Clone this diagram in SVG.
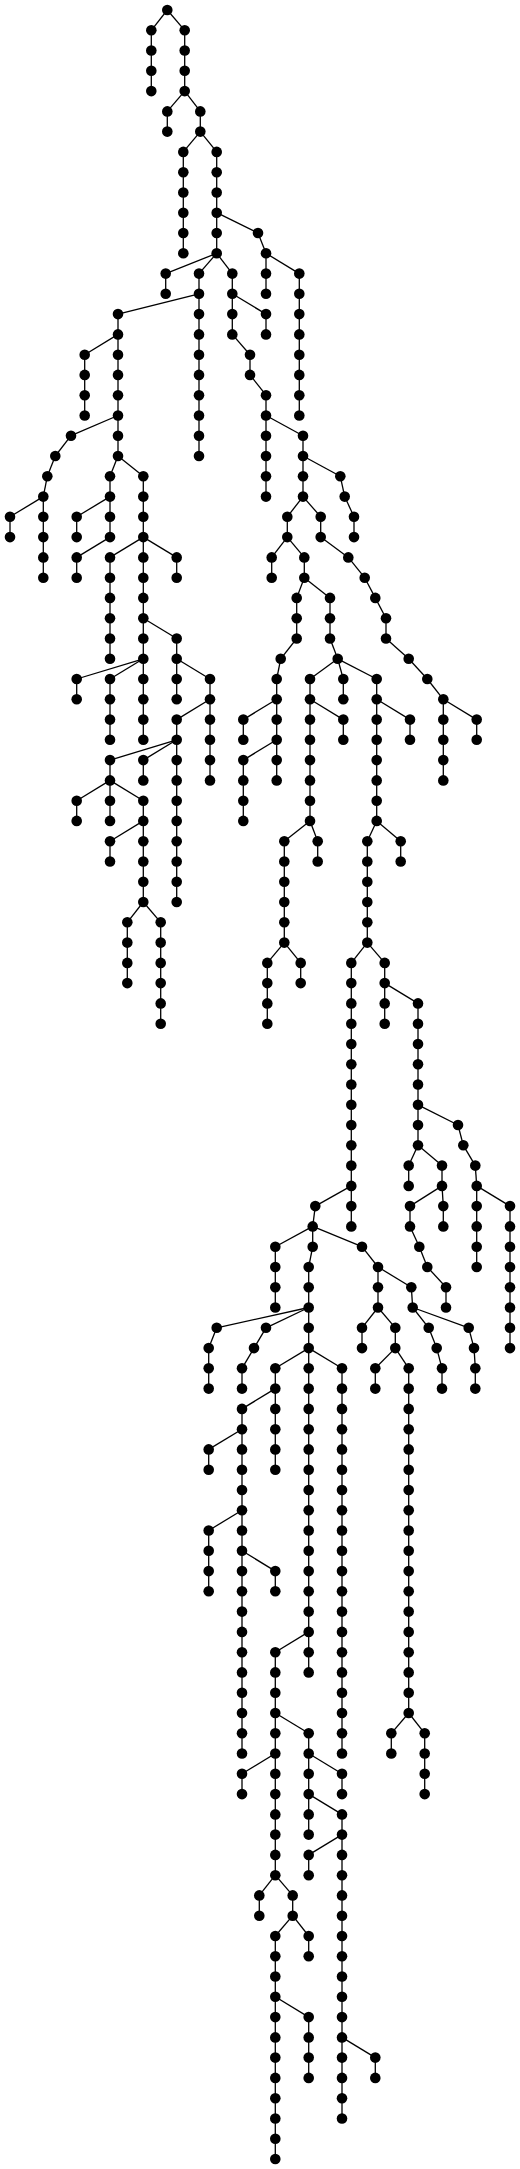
<svg xmlns="http://www.w3.org/2000/svg" width="520" height="2169" viewBox="0 0 520 2169">
<style>
#edges path{stroke:#000;stroke-width:1.3;fill:none}
.nd circle{fill:#000}
</style>
<rect width="520" height="2169" fill="#fff"/>
<g id="edges">
<path d="M167.3 10L151.3 30.3"/><path d="M167.3 10L184.7 30.3"/>
<path d="M151.3 30.3V50.5"/><path d="M184.7 30.3V50.5"/>
<path d="M151.3 50.5V70.8"/><path d="M184.7 50.5V70.8"/>
<path d="M151.3 70.8V91.1"/><path d="M184.7 70.8V91.1"/>
<path d="M184.7 91.1L167.3 111.4"/><path d="M184.7 91.1L200.3 111.4"/>
<path d="M167.3 111.4V131.6"/><path d="M200.3 111.4V131.6"/>
<path d="M200.3 131.6L183.3 151.9"/><path d="M200.3 131.6L216.7 151.9"/>
<path d="M183.3 151.9V172.2"/><path d="M216.7 151.9V172.2"/>
<path d="M183.3 172.2V192.5"/><path d="M216.7 172.2V192.5"/>
<path d="M183.3 192.5V212.7"/><path d="M216.7 192.5V212.7"/>
<path d="M183.3 212.7V233"/><path d="M216.7 212.7V233"/><path d="M216.7 212.7L258 233"/>
<path d="M183.3 233V253.3"/><path d="M216.7 233V253.3"/><path d="M258 233L266 253.3"/>
<path d="M216.7 253.3L165.7 273.6"/><path d="M216.7 253.3L199 273.6"/><path d="M216.7 253.3L232.3 273.6"/><path d="M266 253.3V273.6"/><path d="M266 253.3L299.3 273.6"/>
<path d="M165.7 273.6V293.8"/><path d="M199 273.6V293.8"/><path d="M232.3 273.6V293.8"/><path d="M266 273.6V293.8"/><path d="M299.3 273.6V293.8"/>
<path d="M199 293.8L118 314.1"/><path d="M199 293.8V314.1"/><path d="M232.3 293.8V314.1"/><path d="M232.3 293.8L266 314.1"/><path d="M299.3 293.8V314.1"/>
<path d="M118 314.1V334.4"/><path d="M199 314.1V334.4"/><path d="M232.3 314.1V334.4"/><path d="M266 314.1V334.4"/><path d="M299.3 314.1V334.4"/>
<path d="M118 334.4L84.7 354.7"/><path d="M118 334.4V354.7"/><path d="M199 334.4V354.7"/><path d="M232.3 334.4L250 354.7"/><path d="M299.3 334.4V354.7"/>
<path d="M84.7 354.7V374.9"/><path d="M118 354.7V374.9"/><path d="M199 354.7V374.9"/><path d="M250 354.7V374.9"/><path d="M299.3 354.7V374.9"/>
<path d="M84.7 374.9V395.2"/><path d="M118 374.9V395.2"/><path d="M199 374.9V395.2"/><path d="M250 374.9L266 395.2"/><path d="M299.3 374.9V395.2"/>
<path d="M84.7 395.2V415.5"/><path d="M118 395.2V415.5"/><path d="M199 395.2V415.5"/><path d="M266 395.2V415.5"/><path d="M299.3 395.2V415.5"/>
<path d="M118 415.5L71 435.7"/><path d="M118 415.5V435.7"/><path d="M199 415.5V435.7"/><path d="M266 415.5V435.7"/><path d="M266 415.5L303 435.7"/>
<path d="M71 435.7L55.3 456"/><path d="M118 435.7V456"/><path d="M199 435.7V456"/><path d="M266 435.7V456"/><path d="M303 435.7V456"/>
<path d="M55.3 456L47.3 476.3"/><path d="M118 456L110 476.3"/><path d="M118 456L143.3 476.3"/><path d="M266 456V476.3"/><path d="M303 456V476.3"/><path d="M303 456L340.3 476.3"/>
<path d="M47.3 476.3L43.3 496.6"/><path d="M110 476.3V496.6"/><path d="M143.3 476.3V496.6"/><path d="M266 476.3V496.6"/><path d="M303 476.3V496.6"/><path d="M340.3 476.3L344.7 496.6"/>
<path d="M43.3 496.6L10 516.8"/><path d="M43.3 496.6V516.8"/><path d="M110 496.6L76.7 516.8"/><path d="M110 496.6V516.8"/><path d="M143.3 496.6V516.8"/><path d="M303 496.6L287.3 516.8"/><path d="M303 496.6L320.7 516.8"/><path d="M344.7 496.6L354 516.8"/>
<path d="M10 516.8V537.1"/><path d="M43.3 516.8V537.1"/><path d="M76.7 516.8V537.1"/><path d="M110 516.8V537.1"/><path d="M143.3 516.8V537.1"/><path d="M287.3 516.8V537.1"/><path d="M320.7 516.8V537.1"/><path d="M354 516.8V537.1"/>
<path d="M43.3 537.1V557.4"/><path d="M110 537.1L76.7 557.4"/><path d="M143.3 537.1L110 557.4"/><path d="M143.3 537.1V557.4"/><path d="M143.3 537.1L176.7 557.4"/><path d="M287.3 537.1L271.7 557.4"/><path d="M287.3 537.1L304.3 557.4"/><path d="M320.7 537.1L348.3 557.4"/>
<path d="M43.3 557.4V577.7"/><path d="M76.7 557.4V577.7"/><path d="M110 557.4V577.7"/><path d="M143.3 557.4V577.7"/><path d="M176.7 557.4V577.7"/><path d="M271.7 557.4V577.7"/><path d="M304.3 557.4V577.7"/><path d="M348.3 557.4L364.7 577.7"/>
<path d="M110 577.7V597.9"/><path d="M143.3 577.7V597.9"/><path d="M304.3 577.7L296.7 597.9"/><path d="M304.3 577.7L330 597.9"/><path d="M364.7 577.7L375.3 597.9"/>
<path d="M110 597.9V618.2"/><path d="M143.3 597.9V618.2"/><path d="M296.7 597.9V618.2"/><path d="M330 597.9V618.2"/><path d="M375.3 597.9L386 618.2"/>
<path d="M110 618.2V638.5"/><path d="M143.3 618.2V638.5"/><path d="M143.3 618.2L176.7 638.5"/><path d="M296.7 618.2V638.5"/><path d="M330 618.2V638.5"/><path d="M386 618.2V638.5"/>
<path d="M110 638.5V658.8"/><path d="M143.3 638.5V658.8"/><path d="M176.7 638.5V658.8"/><path d="M296.7 638.5L280.7 658.8"/><path d="M330 638.5L337.7 658.8"/><path d="M386 638.5L408.7 658.8"/>
<path d="M143.3 658.8L76.7 679"/><path d="M143.3 658.8L110 679"/><path d="M143.3 658.8V679"/><path d="M176.7 658.8V679"/><path d="M176.7 658.8L210 679"/><path d="M280.7 658.8L276.7 679"/><path d="M337.7 658.8L310 679"/><path d="M337.7 658.8L343.3 679"/><path d="M337.7 658.8L376.7 679"/><path d="M408.7 658.8L427.3 679"/>
<path d="M76.7 679V699.3"/><path d="M110 679V699.3"/><path d="M143.3 679V699.3"/><path d="M176.7 679V699.3"/><path d="M210 679V699.3"/><path d="M276.7 679V699.3"/><path d="M310 679V699.3"/><path d="M343.3 679V699.3"/><path d="M376.7 679V699.3"/><path d="M427.3 679L443.3 699.3"/>
<path d="M110 699.3V719.6"/><path d="M143.3 699.3V719.6"/><path d="M210 699.3L176.7 719.6"/><path d="M210 699.3V719.6"/><path d="M276.7 699.3L243.3 719.6"/><path d="M276.7 699.3V719.6"/><path d="M310 699.3V719.6"/><path d="M310 699.3L343.3 719.6"/><path d="M376.7 699.3V719.6"/><path d="M376.7 699.3L410 719.6"/><path d="M443.3 699.3V719.6"/><path d="M443.3 699.3L476.7 719.6"/>
<path d="M110 719.6V739.8"/><path d="M143.3 719.6V739.8"/><path d="M176.7 719.6V739.8"/><path d="M210 719.6V739.8"/><path d="M243.3 719.6V739.8"/><path d="M276.7 719.6V739.8"/><path d="M310 719.6V739.8"/><path d="M343.3 719.6V739.8"/><path d="M376.7 719.6V739.8"/><path d="M410 719.6V739.8"/><path d="M443.3 719.6V739.8"/><path d="M476.7 719.6V739.8"/>
<path d="M176.7 739.8L110 760.1"/><path d="M176.7 739.8L143.3 760.1"/><path d="M176.7 739.8V760.1"/><path d="M210 739.8V760.1"/><path d="M276.7 739.8L243.3 760.1"/><path d="M276.7 739.8V760.1"/><path d="M310 739.8V760.1"/><path d="M376.7 739.8V760.1"/><path d="M443.3 739.8V760.1"/>
<path d="M110 760.1V780.4"/><path d="M143.3 760.1V780.4"/><path d="M176.7 760.1V780.4"/><path d="M210 760.1V780.4"/><path d="M243.3 760.1V780.4"/><path d="M276.7 760.1V780.4"/><path d="M310 760.1V780.4"/><path d="M376.7 760.1V780.4"/><path d="M443.3 760.1V780.4"/>
<path d="M110 780.4L76.7 800.7"/><path d="M110 780.4V800.7"/><path d="M110 780.4L143.3 800.7"/><path d="M176.7 780.4V800.7"/><path d="M243.3 780.4V800.7"/><path d="M310 780.4V800.7"/><path d="M376.7 780.4V800.7"/>
<path d="M76.7 800.7V820.9"/><path d="M110 800.7V820.9"/><path d="M143.3 800.7V820.9"/><path d="M176.7 800.7V820.9"/><path d="M243.3 800.7V820.9"/><path d="M310 800.7V820.9"/><path d="M376.7 800.7V820.9"/>
<path d="M143.3 820.9L110 841.2"/><path d="M143.3 820.9V841.2"/><path d="M176.7 820.9V841.2"/><path d="M310 820.9L284.3 841.2"/><path d="M310 820.9L317.7 841.2"/><path d="M376.7 820.9L367.3 841.2"/><path d="M376.7 820.9L400.7 841.2"/>
<path d="M110 841.2V861.5"/><path d="M143.3 841.2V861.5"/><path d="M176.7 841.2V861.5"/><path d="M284.3 841.2V861.5"/><path d="M317.7 841.2V861.5"/><path d="M367.3 841.2V861.5"/><path d="M400.7 841.2V861.5"/>
<path d="M143.3 861.5V881.8"/><path d="M176.7 861.5V881.8"/><path d="M284.3 861.5V881.8"/><path d="M367.3 861.5V881.8"/>
<path d="M143.3 881.8V902"/><path d="M176.7 881.8V902"/><path d="M284.3 881.8V902"/><path d="M367.3 881.8V902"/>
<path d="M143.3 902L127.3 922.3"/><path d="M143.3 902L160.7 922.3"/><path d="M284.3 902V922.3"/><path d="M367.3 902V922.3"/>
<path d="M127.3 922.3V942.6"/><path d="M160.7 922.3V942.6"/><path d="M284.3 922.3V942.6"/><path d="M367.3 922.3V942.6"/>
<path d="M127.3 942.6V962.9"/><path d="M160.7 942.6V962.9"/><path d="M284.3 942.6L267.3 962.9"/><path d="M284.3 942.6L300.7 962.9"/><path d="M367.3 942.6L351.3 962.9"/><path d="M367.3 942.6L384.7 962.9"/>
<path d="M127.3 962.9V983.1"/><path d="M160.7 962.9V983.1"/><path d="M267.3 962.9V983.1"/><path d="M300.7 962.9V983.1"/><path d="M351.3 962.9V983.1"/><path d="M384.7 962.9V983.1"/>
<path d="M160.7 983.1V1003.4"/><path d="M267.3 983.1V1003.4"/><path d="M351.3 983.1V1003.4"/><path d="M384.7 983.1V1003.4"/><path d="M384.7 983.1L418 1003.4"/>
<path d="M160.7 1003.4V1023.7"/><path d="M267.3 1003.4V1023.7"/><path d="M351.3 1003.4V1023.7"/><path d="M384.7 1003.4V1023.7"/><path d="M418 1003.4V1023.7"/>
<path d="M351.3 1023.7V1044"/><path d="M418 1023.7V1044"/>
<path d="M351.3 1044V1064.2"/><path d="M418 1044V1064.2"/>
<path d="M351.3 1064.2V1084.5"/><path d="M418 1064.2V1084.5"/>
<path d="M351.3 1084.5V1104.8"/><path d="M418 1084.5V1104.8"/>
<path d="M351.3 1104.8V1125"/><path d="M418 1104.8V1125"/><path d="M418 1104.8L458 1125"/>
<path d="M351.3 1125V1145.3"/><path d="M418 1125V1145.3"/><path d="M458 1125L463.3 1145.3"/>
<path d="M351.3 1145.3V1165.6"/><path d="M418 1145.3L408.7 1165.6"/><path d="M418 1145.3L442 1165.6"/><path d="M463.3 1145.3L475.3 1165.6"/>
<path d="M351.3 1165.6V1185.9"/><path d="M408.7 1165.6V1185.9"/><path d="M442 1165.6V1185.9"/><path d="M475.3 1165.6L476.7 1185.9"/>
<path d="M351.3 1185.9L315.3 1206.1"/><path d="M351.3 1185.9V1206.1"/><path d="M442 1185.9L410 1206.1"/><path d="M442 1185.9L443.3 1206.1"/><path d="M476.7 1185.9V1206.1"/><path d="M476.7 1185.9L510 1206.1"/>
<path d="M315.3 1206.1L312.7 1226.4"/><path d="M351.3 1206.1V1226.4"/><path d="M410 1206.1V1226.4"/><path d="M443.3 1206.1V1226.4"/><path d="M476.7 1206.1V1226.4"/><path d="M510 1206.1V1226.4"/>
<path d="M312.7 1226.4L275.3 1246.7"/><path d="M312.7 1226.4V1246.7"/><path d="M312.7 1226.4L362 1246.7"/><path d="M410 1226.4L419.3 1246.7"/><path d="M476.7 1226.4V1246.7"/><path d="M510 1226.4V1246.7"/>
<path d="M275.3 1246.7V1267"/><path d="M312.7 1246.7L308.7 1267"/><path d="M362 1246.7L378 1267"/><path d="M419.3 1246.7L427.3 1267"/><path d="M476.7 1246.7V1267"/><path d="M510 1246.7V1267"/>
<path d="M275.3 1267V1287.2"/><path d="M308.7 1267V1287.2"/><path d="M378 1267V1287.2"/><path d="M378 1267L411.3 1287.2"/><path d="M427.3 1267L446 1287.2"/><path d="M510 1267V1287.2"/>
<path d="M275.3 1287.2V1307.5"/><path d="M308.7 1287.2V1307.5"/><path d="M378 1287.2V1307.5"/><path d="M411.3 1287.2L412.7 1307.5"/><path d="M446 1287.2V1307.5"/><path d="M510 1287.2V1307.5"/>
<path d="M308.7 1307.5L216.7 1327.8"/><path d="M308.7 1307.5L266 1327.8"/><path d="M308.7 1307.5V1327.8"/><path d="M378 1307.5L362 1327.8"/><path d="M378 1307.5L395.3 1327.8"/><path d="M412.7 1307.5L428.7 1327.8"/><path d="M412.7 1307.5L468.7 1327.8"/><path d="M510 1307.5V1327.8"/>
<path d="M216.7 1327.8L208.7 1348.1"/><path d="M266 1327.8L254 1348.1"/><path d="M308.7 1327.8V1348.1"/><path d="M362 1327.8V1348.1"/><path d="M395.3 1327.8V1348.1"/><path d="M428.7 1327.8L436.7 1348.1"/><path d="M468.7 1327.8L474 1348.1"/><path d="M510 1327.8V1348.1"/>
<path d="M208.7 1348.1V1368.3"/><path d="M254 1348.1L242 1368.3"/><path d="M308.7 1348.1L275.3 1368.3"/><path d="M308.7 1348.1V1368.3"/><path d="M308.7 1348.1L342 1368.3"/><path d="M395.3 1348.1L375.3 1368.3"/><path d="M395.3 1348.1L408.7 1368.3"/><path d="M436.7 1348.1L442 1368.3"/><path d="M474 1348.1L475.3 1368.3"/>
<path d="M208.7 1368.3V1388.6"/><path d="M242 1368.3V1388.6"/><path d="M275.3 1368.3V1388.6"/><path d="M308.7 1368.3V1388.6"/><path d="M342 1368.3V1388.6"/><path d="M375.3 1368.3V1388.6"/><path d="M408.7 1368.3V1388.6"/><path d="M442 1368.3V1388.6"/><path d="M475.3 1368.3V1388.6"/>
<path d="M275.3 1388.6L242 1408.9"/><path d="M275.3 1388.6V1408.9"/><path d="M308.7 1388.6V1408.9"/><path d="M342 1388.6V1408.9"/><path d="M408.7 1388.6V1408.9"/>
<path d="M242 1408.9V1429.2"/><path d="M275.3 1408.9V1429.2"/><path d="M308.7 1408.9V1429.2"/><path d="M342 1408.9V1429.2"/><path d="M408.7 1408.9V1429.2"/>
<path d="M242 1429.2L208.7 1449.4"/><path d="M242 1429.2V1449.4"/><path d="M275.3 1429.2V1449.4"/><path d="M308.7 1429.2V1449.4"/><path d="M342 1429.2V1449.4"/><path d="M408.7 1429.2V1449.4"/>
<path d="M208.7 1449.4V1469.7"/><path d="M242 1449.4V1469.7"/><path d="M275.3 1449.4V1469.7"/><path d="M308.7 1449.4V1469.7"/><path d="M342 1449.4V1469.7"/><path d="M408.7 1449.4V1469.7"/>
<path d="M242 1469.7V1490"/><path d="M308.7 1469.7V1490"/><path d="M342 1469.7V1490"/><path d="M408.7 1469.7V1490"/>
<path d="M242 1490V1510.2"/><path d="M308.7 1490V1510.2"/><path d="M342 1490V1510.2"/><path d="M408.7 1490V1510.2"/>
<path d="M242 1510.2L208.7 1530.5"/><path d="M242 1510.2V1530.5"/><path d="M308.7 1510.2V1530.5"/><path d="M342 1510.2V1530.5"/><path d="M408.7 1510.2V1530.5"/>
<path d="M208.7 1530.5V1550.8"/><path d="M242 1530.5V1550.8"/><path d="M308.7 1530.5V1550.8"/><path d="M342 1530.5V1550.8"/><path d="M408.7 1530.5V1550.8"/>
<path d="M208.7 1550.8V1571.1"/><path d="M242 1550.8V1571.1"/><path d="M242 1550.8L275.3 1571.1"/><path d="M308.7 1550.8V1571.1"/><path d="M342 1550.8V1571.1"/><path d="M408.7 1550.8V1571.1"/>
<path d="M208.7 1571.1V1591.3"/><path d="M242 1571.1V1591.3"/><path d="M275.3 1571.1V1591.3"/><path d="M308.7 1571.1V1591.3"/><path d="M342 1571.1V1591.3"/><path d="M408.7 1571.1V1591.3"/>
<path d="M242 1591.3V1611.6"/><path d="M308.7 1591.3V1611.6"/><path d="M342 1591.3V1611.6"/><path d="M408.7 1591.3V1611.6"/>
<path d="M242 1611.6V1631.9"/><path d="M308.7 1611.6V1631.9"/><path d="M342 1611.6V1631.9"/><path d="M408.7 1611.6V1631.9"/>
<path d="M242 1631.9V1652.2"/><path d="M308.7 1631.9L275.3 1652.2"/><path d="M308.7 1631.9V1652.2"/><path d="M342 1631.9V1652.2"/><path d="M408.7 1631.9V1652.2"/>
<path d="M242 1652.2V1672.4"/><path d="M275.3 1652.2V1672.4"/><path d="M308.7 1652.2V1672.4"/><path d="M342 1652.2V1672.4"/><path d="M408.7 1652.2V1672.4"/>
<path d="M242 1672.4V1692.7"/><path d="M275.3 1672.4V1692.7"/><path d="M342 1672.4V1692.7"/><path d="M408.7 1672.4V1692.7"/>
<path d="M242 1692.7V1713"/><path d="M275.3 1692.7V1713"/><path d="M342 1692.7V1713"/><path d="M408.7 1692.7V1713"/>
<path d="M242 1713V1733.3"/><path d="M275.3 1713V1733.3"/><path d="M275.3 1713L308.7 1733.3"/><path d="M342 1713V1733.3"/><path d="M408.7 1713L391.3 1733.3"/><path d="M408.7 1713L424.7 1733.3"/>
<path d="M242 1733.3V1753.5"/><path d="M275.3 1733.3V1753.5"/><path d="M308.7 1733.3V1753.5"/><path d="M342 1733.3V1753.5"/><path d="M391.3 1733.3V1753.5"/><path d="M424.7 1733.3V1753.5"/>
<path d="M275.3 1753.5L242 1773.8"/><path d="M275.3 1753.5V1773.8"/><path d="M308.7 1753.5V1773.8"/><path d="M308.7 1753.5L342 1773.8"/><path d="M424.7 1753.5V1773.8"/>
<path d="M242 1773.8V1794.1"/><path d="M275.3 1773.8V1794.1"/><path d="M308.7 1773.8V1794.1"/><path d="M342 1773.8V1794.1"/><path d="M424.7 1773.8V1794.1"/>
<path d="M275.3 1794.1V1814.4"/><path d="M308.7 1794.1V1814.4"/><path d="M308.7 1794.1L342 1814.4"/>
<path d="M275.3 1814.4V1834.6"/><path d="M308.7 1814.4V1834.6"/><path d="M342 1814.4V1834.6"/>
<path d="M275.3 1834.6V1854.9"/><path d="M342 1834.6L308.7 1854.9"/><path d="M342 1834.6V1854.9"/>
<path d="M275.3 1854.9V1875.2"/><path d="M308.7 1854.9V1875.2"/><path d="M342 1854.9V1875.2"/>
<path d="M275.3 1875.2L259.3 1895.4"/><path d="M275.3 1875.2L292.7 1895.4"/><path d="M342 1875.2V1895.4"/>
<path d="M259.3 1895.4V1915.7"/><path d="M292.7 1895.4V1915.7"/><path d="M342 1895.4V1915.7"/>
<path d="M292.7 1915.7L275.3 1936"/><path d="M292.7 1915.7L308.7 1936"/><path d="M342 1915.7V1936"/>
<path d="M275.3 1936V1956.3"/><path d="M308.7 1936V1956.3"/><path d="M342 1936V1956.3"/>
<path d="M275.3 1956.3V1976.5"/><path d="M342 1956.3V1976.5"/>
<path d="M275.3 1976.5V1996.8"/><path d="M342 1976.5V1996.8"/>
<path d="M275.3 1996.8V2017.1"/><path d="M275.3 1996.8L308.7 2017.1"/><path d="M342 1996.8V2017.1"/>
<path d="M275.3 2017.1V2037.4"/><path d="M308.7 2017.1V2037.4"/><path d="M342 2017.1V2037.4"/>
<path d="M275.3 2037.4V2057.6"/><path d="M308.7 2037.4V2057.6"/><path d="M342 2037.4V2057.6"/><path d="M342 2037.4L375.3 2057.6"/>
<path d="M275.3 2057.6V2077.9"/><path d="M308.7 2057.6V2077.9"/><path d="M342 2057.6V2077.9"/><path d="M375.3 2057.6V2077.9"/>
<path d="M275.3 2077.9V2098.2"/><path d="M342 2077.9V2098.2"/>
<path d="M275.3 2098.2V2118.5"/><path d="M342 2098.2V2118.5"/>
<path d="M275.3 2118.5V2138.7"/>
<path d="M275.3 2138.7V2159"/>
</g>
<g id="nodes">
<g id="n0-0" class="nd"><circle cx="167.3" cy="10" r="5.3"/></g>
<g id="n1-0" class="nd"><circle cx="151.3" cy="30.3" r="5.3"/></g><g id="n1-1" class="nd"><circle cx="184.7" cy="30.3" r="5.3"/></g>
<g id="n2-0" class="nd"><circle cx="151.3" cy="50.5" r="5.3"/></g><g id="n2-1" class="nd"><circle cx="184.7" cy="50.5" r="5.3"/></g>
<g id="n3-0" class="nd"><circle cx="151.3" cy="70.8" r="5.3"/></g><g id="n3-1" class="nd"><circle cx="184.7" cy="70.8" r="5.3"/></g>
<g id="n4-0" class="nd"><circle cx="151.3" cy="91.1" r="5.3"/></g><g id="n4-1" class="nd"><circle cx="184.7" cy="91.1" r="5.3"/></g>
<g id="n5-0" class="nd"><circle cx="167.3" cy="111.4" r="5.3"/></g><g id="n5-1" class="nd"><circle cx="200.3" cy="111.4" r="5.3"/></g>
<g id="n6-0" class="nd"><circle cx="167.3" cy="131.6" r="5.3"/></g><g id="n6-1" class="nd"><circle cx="200.3" cy="131.6" r="5.3"/></g>
<g id="n7-0" class="nd"><circle cx="183.3" cy="151.9" r="5.3"/></g><g id="n7-1" class="nd"><circle cx="216.7" cy="151.9" r="5.3"/></g>
<g id="n8-0" class="nd"><circle cx="183.3" cy="172.2" r="5.3"/></g><g id="n8-1" class="nd"><circle cx="216.7" cy="172.2" r="5.3"/></g>
<g id="n9-0" class="nd"><circle cx="183.3" cy="192.5" r="5.3"/></g><g id="n9-1" class="nd"><circle cx="216.7" cy="192.5" r="5.3"/></g>
<g id="n10-0" class="nd"><circle cx="183.3" cy="212.7" r="5.3"/></g><g id="n10-1" class="nd"><circle cx="216.7" cy="212.7" r="5.3"/></g>
<g id="n11-0" class="nd"><circle cx="183.3" cy="233" r="5.3"/></g><g id="n11-1" class="nd"><circle cx="216.7" cy="233" r="5.3"/></g><g id="n11-2" class="nd"><circle cx="258" cy="233" r="5.3"/></g>
<g id="n12-0" class="nd"><circle cx="183.3" cy="253.3" r="5.3"/></g><g id="n12-1" class="nd"><circle cx="216.7" cy="253.3" r="5.3"/></g><g id="n12-2" class="nd"><circle cx="266" cy="253.3" r="5.3"/></g>
<g id="n13-0" class="nd"><circle cx="165.7" cy="273.6" r="5.3"/></g><g id="n13-1" class="nd"><circle cx="199" cy="273.6" r="5.3"/></g><g id="n13-2" class="nd"><circle cx="232.3" cy="273.6" r="5.3"/></g><g id="n13-3" class="nd"><circle cx="266" cy="273.6" r="5.3"/></g><g id="n13-4" class="nd"><circle cx="299.3" cy="273.6" r="5.3"/></g>
<g id="n14-0" class="nd"><circle cx="165.7" cy="293.8" r="5.3"/></g><g id="n14-1" class="nd"><circle cx="199" cy="293.8" r="5.3"/></g><g id="n14-2" class="nd"><circle cx="232.3" cy="293.8" r="5.3"/></g><g id="n14-3" class="nd"><circle cx="266" cy="293.8" r="5.3"/></g><g id="n14-4" class="nd"><circle cx="299.3" cy="293.8" r="5.3"/></g>
<g id="n15-0" class="nd"><circle cx="118" cy="314.1" r="5.3"/></g><g id="n15-1" class="nd"><circle cx="199" cy="314.1" r="5.3"/></g><g id="n15-2" class="nd"><circle cx="232.3" cy="314.1" r="5.3"/></g><g id="n15-3" class="nd"><circle cx="266" cy="314.1" r="5.3"/></g><g id="n15-4" class="nd"><circle cx="299.3" cy="314.1" r="5.3"/></g>
<g id="n16-0" class="nd"><circle cx="118" cy="334.4" r="5.3"/></g><g id="n16-1" class="nd"><circle cx="199" cy="334.4" r="5.3"/></g><g id="n16-2" class="nd"><circle cx="232.3" cy="334.4" r="5.3"/></g><g id="n16-3" class="nd"><circle cx="266" cy="334.4" r="5.3"/></g><g id="n16-4" class="nd"><circle cx="299.3" cy="334.4" r="5.3"/></g>
<g id="n17-0" class="nd"><circle cx="84.7" cy="354.7" r="5.3"/></g><g id="n17-1" class="nd"><circle cx="118" cy="354.7" r="5.3"/></g><g id="n17-2" class="nd"><circle cx="199" cy="354.7" r="5.3"/></g><g id="n17-3" class="nd"><circle cx="250" cy="354.7" r="5.3"/></g><g id="n17-4" class="nd"><circle cx="299.3" cy="354.7" r="5.3"/></g>
<g id="n18-0" class="nd"><circle cx="84.7" cy="374.9" r="5.3"/></g><g id="n18-1" class="nd"><circle cx="118" cy="374.9" r="5.3"/></g><g id="n18-2" class="nd"><circle cx="199" cy="374.9" r="5.3"/></g><g id="n18-3" class="nd"><circle cx="250" cy="374.9" r="5.3"/></g><g id="n18-4" class="nd"><circle cx="299.3" cy="374.9" r="5.3"/></g>
<g id="n19-0" class="nd"><circle cx="84.7" cy="395.2" r="5.3"/></g><g id="n19-1" class="nd"><circle cx="118" cy="395.2" r="5.3"/></g><g id="n19-2" class="nd"><circle cx="199" cy="395.2" r="5.3"/></g><g id="n19-3" class="nd"><circle cx="266" cy="395.2" r="5.3"/></g><g id="n19-4" class="nd"><circle cx="299.3" cy="395.2" r="5.3"/></g>
<g id="n20-0" class="nd"><circle cx="84.7" cy="415.5" r="5.3"/></g><g id="n20-1" class="nd"><circle cx="118" cy="415.5" r="5.3"/></g><g id="n20-2" class="nd"><circle cx="199" cy="415.5" r="5.3"/></g><g id="n20-3" class="nd"><circle cx="266" cy="415.5" r="5.3"/></g><g id="n20-4" class="nd"><circle cx="299.3" cy="415.5" r="5.3"/></g>
<g id="n21-0" class="nd"><circle cx="71" cy="435.7" r="5.3"/></g><g id="n21-1" class="nd"><circle cx="118" cy="435.7" r="5.3"/></g><g id="n21-2" class="nd"><circle cx="199" cy="435.7" r="5.3"/></g><g id="n21-3" class="nd"><circle cx="266" cy="435.7" r="5.3"/></g><g id="n21-4" class="nd"><circle cx="303" cy="435.7" r="5.3"/></g>
<g id="n22-0" class="nd"><circle cx="55.3" cy="456" r="5.3"/></g><g id="n22-1" class="nd"><circle cx="118" cy="456" r="5.3"/></g><g id="n22-2" class="nd"><circle cx="199" cy="456" r="5.3"/></g><g id="n22-3" class="nd"><circle cx="266" cy="456" r="5.3"/></g><g id="n22-4" class="nd"><circle cx="303" cy="456" r="5.3"/></g>
<g id="n23-0" class="nd"><circle cx="47.3" cy="476.3" r="5.3"/></g><g id="n23-1" class="nd"><circle cx="110" cy="476.3" r="5.3"/></g><g id="n23-2" class="nd"><circle cx="143.3" cy="476.3" r="5.3"/></g><g id="n23-3" class="nd"><circle cx="266" cy="476.3" r="5.3"/></g><g id="n23-4" class="nd"><circle cx="303" cy="476.3" r="5.3"/></g><g id="n23-5" class="nd"><circle cx="340.3" cy="476.3" r="5.3"/></g>
<g id="n24-0" class="nd"><circle cx="43.3" cy="496.6" r="5.3"/></g><g id="n24-1" class="nd"><circle cx="110" cy="496.6" r="5.3"/></g><g id="n24-2" class="nd"><circle cx="143.3" cy="496.6" r="5.3"/></g><g id="n24-3" class="nd"><circle cx="266" cy="496.6" r="5.3"/></g><g id="n24-4" class="nd"><circle cx="303" cy="496.6" r="5.3"/></g><g id="n24-5" class="nd"><circle cx="344.7" cy="496.6" r="5.3"/></g>
<g id="n25-0" class="nd"><circle cx="10" cy="516.8" r="5.3"/></g><g id="n25-1" class="nd"><circle cx="43.3" cy="516.8" r="5.3"/></g><g id="n25-2" class="nd"><circle cx="76.7" cy="516.8" r="5.3"/></g><g id="n25-3" class="nd"><circle cx="110" cy="516.8" r="5.3"/></g><g id="n25-4" class="nd"><circle cx="143.3" cy="516.8" r="5.3"/></g><g id="n25-5" class="nd"><circle cx="287.3" cy="516.8" r="5.3"/></g><g id="n25-6" class="nd"><circle cx="320.7" cy="516.8" r="5.3"/></g><g id="n25-7" class="nd"><circle cx="354" cy="516.8" r="5.3"/></g>
<g id="n26-0" class="nd"><circle cx="10" cy="537.1" r="5.3"/></g><g id="n26-1" class="nd"><circle cx="43.3" cy="537.1" r="5.3"/></g><g id="n26-2" class="nd"><circle cx="76.7" cy="537.1" r="5.3"/></g><g id="n26-3" class="nd"><circle cx="110" cy="537.1" r="5.3"/></g><g id="n26-4" class="nd"><circle cx="143.3" cy="537.1" r="5.3"/></g><g id="n26-5" class="nd"><circle cx="287.3" cy="537.1" r="5.3"/></g><g id="n26-6" class="nd"><circle cx="320.7" cy="537.1" r="5.3"/></g><g id="n26-7" class="nd"><circle cx="354" cy="537.1" r="5.3"/></g>
<g id="n27-0" class="nd"><circle cx="43.3" cy="557.4" r="5.3"/></g><g id="n27-1" class="nd"><circle cx="76.7" cy="557.4" r="5.3"/></g><g id="n27-2" class="nd"><circle cx="110" cy="557.4" r="5.3"/></g><g id="n27-3" class="nd"><circle cx="143.3" cy="557.4" r="5.3"/></g><g id="n27-4" class="nd"><circle cx="176.7" cy="557.4" r="5.3"/></g><g id="n27-5" class="nd"><circle cx="271.7" cy="557.4" r="5.3"/></g><g id="n27-6" class="nd"><circle cx="304.3" cy="557.4" r="5.3"/></g><g id="n27-7" class="nd"><circle cx="348.3" cy="557.4" r="5.3"/></g>
<g id="n28-0" class="nd"><circle cx="43.3" cy="577.7" r="5.3"/></g><g id="n28-1" class="nd"><circle cx="76.7" cy="577.7" r="5.3"/></g><g id="n28-2" class="nd"><circle cx="110" cy="577.7" r="5.3"/></g><g id="n28-3" class="nd"><circle cx="143.3" cy="577.7" r="5.3"/></g><g id="n28-4" class="nd"><circle cx="176.7" cy="577.7" r="5.3"/></g><g id="n28-5" class="nd"><circle cx="271.7" cy="577.7" r="5.3"/></g><g id="n28-6" class="nd"><circle cx="304.3" cy="577.7" r="5.3"/></g><g id="n28-7" class="nd"><circle cx="364.7" cy="577.7" r="5.3"/></g>
<g id="n29-0" class="nd"><circle cx="110" cy="597.9" r="5.3"/></g><g id="n29-1" class="nd"><circle cx="143.3" cy="597.9" r="5.3"/></g><g id="n29-2" class="nd"><circle cx="296.7" cy="597.9" r="5.3"/></g><g id="n29-3" class="nd"><circle cx="330" cy="597.9" r="5.3"/></g><g id="n29-4" class="nd"><circle cx="375.3" cy="597.9" r="5.3"/></g>
<g id="n30-0" class="nd"><circle cx="110" cy="618.2" r="5.3"/></g><g id="n30-1" class="nd"><circle cx="143.3" cy="618.2" r="5.3"/></g><g id="n30-2" class="nd"><circle cx="296.7" cy="618.2" r="5.3"/></g><g id="n30-3" class="nd"><circle cx="330" cy="618.2" r="5.3"/></g><g id="n30-4" class="nd"><circle cx="386" cy="618.2" r="5.3"/></g>
<g id="n31-0" class="nd"><circle cx="110" cy="638.5" r="5.3"/></g><g id="n31-1" class="nd"><circle cx="143.3" cy="638.5" r="5.3"/></g><g id="n31-2" class="nd"><circle cx="176.7" cy="638.5" r="5.3"/></g><g id="n31-3" class="nd"><circle cx="296.7" cy="638.5" r="5.3"/></g><g id="n31-4" class="nd"><circle cx="330" cy="638.5" r="5.3"/></g><g id="n31-5" class="nd"><circle cx="386" cy="638.5" r="5.3"/></g>
<g id="n32-0" class="nd"><circle cx="110" cy="658.8" r="5.3"/></g><g id="n32-1" class="nd"><circle cx="143.3" cy="658.8" r="5.3"/></g><g id="n32-2" class="nd"><circle cx="176.7" cy="658.8" r="5.3"/></g><g id="n32-3" class="nd"><circle cx="280.7" cy="658.8" r="5.3"/></g><g id="n32-4" class="nd"><circle cx="337.7" cy="658.8" r="5.3"/></g><g id="n32-5" class="nd"><circle cx="408.7" cy="658.8" r="5.3"/></g>
<g id="n33-0" class="nd"><circle cx="76.7" cy="679" r="5.3"/></g><g id="n33-1" class="nd"><circle cx="110" cy="679" r="5.3"/></g><g id="n33-2" class="nd"><circle cx="143.3" cy="679" r="5.3"/></g><g id="n33-3" class="nd"><circle cx="176.7" cy="679" r="5.3"/></g><g id="n33-4" class="nd"><circle cx="210" cy="679" r="5.3"/></g><g id="n33-5" class="nd"><circle cx="276.7" cy="679" r="5.3"/></g><g id="n33-6" class="nd"><circle cx="310" cy="679" r="5.3"/></g><g id="n33-7" class="nd"><circle cx="343.3" cy="679" r="5.3"/></g><g id="n33-8" class="nd"><circle cx="376.7" cy="679" r="5.3"/></g><g id="n33-9" class="nd"><circle cx="427.3" cy="679" r="5.3"/></g>
<g id="n34-0" class="nd"><circle cx="76.7" cy="699.3" r="5.3"/></g><g id="n34-1" class="nd"><circle cx="110" cy="699.3" r="5.3"/></g><g id="n34-2" class="nd"><circle cx="143.3" cy="699.3" r="5.3"/></g><g id="n34-3" class="nd"><circle cx="176.7" cy="699.3" r="5.3"/></g><g id="n34-4" class="nd"><circle cx="210" cy="699.3" r="5.3"/></g><g id="n34-5" class="nd"><circle cx="276.7" cy="699.3" r="5.3"/></g><g id="n34-6" class="nd"><circle cx="310" cy="699.3" r="5.3"/></g><g id="n34-7" class="nd"><circle cx="343.3" cy="699.3" r="5.3"/></g><g id="n34-8" class="nd"><circle cx="376.7" cy="699.3" r="5.3"/></g><g id="n34-9" class="nd"><circle cx="443.3" cy="699.3" r="5.3"/></g>
<g id="n35-0" class="nd"><circle cx="110" cy="719.6" r="5.3"/></g><g id="n35-1" class="nd"><circle cx="143.3" cy="719.6" r="5.3"/></g><g id="n35-2" class="nd"><circle cx="176.7" cy="719.6" r="5.3"/></g><g id="n35-3" class="nd"><circle cx="210" cy="719.6" r="5.3"/></g><g id="n35-4" class="nd"><circle cx="243.3" cy="719.6" r="5.3"/></g><g id="n35-5" class="nd"><circle cx="276.7" cy="719.6" r="5.3"/></g><g id="n35-6" class="nd"><circle cx="310" cy="719.6" r="5.3"/></g><g id="n35-7" class="nd"><circle cx="343.3" cy="719.6" r="5.3"/></g><g id="n35-8" class="nd"><circle cx="376.7" cy="719.6" r="5.3"/></g><g id="n35-9" class="nd"><circle cx="410" cy="719.6" r="5.3"/></g><g id="n35-10" class="nd"><circle cx="443.3" cy="719.6" r="5.3"/></g><g id="n35-11" class="nd"><circle cx="476.7" cy="719.6" r="5.3"/></g>
<g id="n36-0" class="nd"><circle cx="110" cy="739.8" r="5.3"/></g><g id="n36-1" class="nd"><circle cx="143.3" cy="739.8" r="5.3"/></g><g id="n36-2" class="nd"><circle cx="176.7" cy="739.8" r="5.3"/></g><g id="n36-3" class="nd"><circle cx="210" cy="739.8" r="5.3"/></g><g id="n36-4" class="nd"><circle cx="243.3" cy="739.8" r="5.3"/></g><g id="n36-5" class="nd"><circle cx="276.7" cy="739.8" r="5.3"/></g><g id="n36-6" class="nd"><circle cx="310" cy="739.8" r="5.3"/></g><g id="n36-7" class="nd"><circle cx="343.3" cy="739.8" r="5.3"/></g><g id="n36-8" class="nd"><circle cx="376.7" cy="739.8" r="5.3"/></g><g id="n36-9" class="nd"><circle cx="410" cy="739.8" r="5.3"/></g><g id="n36-10" class="nd"><circle cx="443.3" cy="739.8" r="5.3"/></g><g id="n36-11" class="nd"><circle cx="476.7" cy="739.8" r="5.3"/></g>
<g id="n37-0" class="nd"><circle cx="110" cy="760.1" r="5.3"/></g><g id="n37-1" class="nd"><circle cx="143.3" cy="760.1" r="5.3"/></g><g id="n37-2" class="nd"><circle cx="176.7" cy="760.1" r="5.3"/></g><g id="n37-3" class="nd"><circle cx="210" cy="760.1" r="5.3"/></g><g id="n37-4" class="nd"><circle cx="243.3" cy="760.1" r="5.3"/></g><g id="n37-5" class="nd"><circle cx="276.7" cy="760.1" r="5.3"/></g><g id="n37-6" class="nd"><circle cx="310" cy="760.1" r="5.3"/></g><g id="n37-7" class="nd"><circle cx="376.7" cy="760.1" r="5.3"/></g><g id="n37-8" class="nd"><circle cx="443.3" cy="760.1" r="5.3"/></g>
<g id="n38-0" class="nd"><circle cx="110" cy="780.4" r="5.3"/></g><g id="n38-1" class="nd"><circle cx="143.3" cy="780.4" r="5.3"/></g><g id="n38-2" class="nd"><circle cx="176.7" cy="780.4" r="5.3"/></g><g id="n38-3" class="nd"><circle cx="210" cy="780.4" r="5.3"/></g><g id="n38-4" class="nd"><circle cx="243.3" cy="780.4" r="5.3"/></g><g id="n38-5" class="nd"><circle cx="276.7" cy="780.4" r="5.3"/></g><g id="n38-6" class="nd"><circle cx="310" cy="780.4" r="5.3"/></g><g id="n38-7" class="nd"><circle cx="376.7" cy="780.4" r="5.3"/></g><g id="n38-8" class="nd"><circle cx="443.3" cy="780.4" r="5.3"/></g>
<g id="n39-0" class="nd"><circle cx="76.7" cy="800.7" r="5.3"/></g><g id="n39-1" class="nd"><circle cx="110" cy="800.7" r="5.3"/></g><g id="n39-2" class="nd"><circle cx="143.3" cy="800.7" r="5.3"/></g><g id="n39-3" class="nd"><circle cx="176.7" cy="800.7" r="5.3"/></g><g id="n39-4" class="nd"><circle cx="243.3" cy="800.7" r="5.3"/></g><g id="n39-5" class="nd"><circle cx="310" cy="800.7" r="5.3"/></g><g id="n39-6" class="nd"><circle cx="376.7" cy="800.7" r="5.3"/></g>
<g id="n40-0" class="nd"><circle cx="76.7" cy="820.9" r="5.3"/></g><g id="n40-1" class="nd"><circle cx="110" cy="820.9" r="5.3"/></g><g id="n40-2" class="nd"><circle cx="143.3" cy="820.9" r="5.3"/></g><g id="n40-3" class="nd"><circle cx="176.7" cy="820.9" r="5.3"/></g><g id="n40-4" class="nd"><circle cx="243.3" cy="820.9" r="5.3"/></g><g id="n40-5" class="nd"><circle cx="310" cy="820.9" r="5.3"/></g><g id="n40-6" class="nd"><circle cx="376.7" cy="820.9" r="5.3"/></g>
<g id="n41-0" class="nd"><circle cx="110" cy="841.2" r="5.3"/></g><g id="n41-1" class="nd"><circle cx="143.3" cy="841.2" r="5.3"/></g><g id="n41-2" class="nd"><circle cx="176.7" cy="841.2" r="5.3"/></g><g id="n41-3" class="nd"><circle cx="284.3" cy="841.2" r="5.3"/></g><g id="n41-4" class="nd"><circle cx="317.7" cy="841.2" r="5.3"/></g><g id="n41-5" class="nd"><circle cx="367.3" cy="841.2" r="5.3"/></g><g id="n41-6" class="nd"><circle cx="400.7" cy="841.2" r="5.3"/></g>
<g id="n42-0" class="nd"><circle cx="110" cy="861.5" r="5.3"/></g><g id="n42-1" class="nd"><circle cx="143.3" cy="861.5" r="5.3"/></g><g id="n42-2" class="nd"><circle cx="176.7" cy="861.5" r="5.3"/></g><g id="n42-3" class="nd"><circle cx="284.3" cy="861.5" r="5.3"/></g><g id="n42-4" class="nd"><circle cx="317.7" cy="861.5" r="5.3"/></g><g id="n42-5" class="nd"><circle cx="367.3" cy="861.5" r="5.3"/></g><g id="n42-6" class="nd"><circle cx="400.7" cy="861.5" r="5.3"/></g>
<g id="n43-0" class="nd"><circle cx="143.3" cy="881.8" r="5.3"/></g><g id="n43-1" class="nd"><circle cx="176.7" cy="881.8" r="5.3"/></g><g id="n43-2" class="nd"><circle cx="284.3" cy="881.8" r="5.3"/></g><g id="n43-3" class="nd"><circle cx="367.3" cy="881.8" r="5.3"/></g>
<g id="n44-0" class="nd"><circle cx="143.3" cy="902" r="5.3"/></g><g id="n44-1" class="nd"><circle cx="176.7" cy="902" r="5.3"/></g><g id="n44-2" class="nd"><circle cx="284.3" cy="902" r="5.3"/></g><g id="n44-3" class="nd"><circle cx="367.3" cy="902" r="5.3"/></g>
<g id="n45-0" class="nd"><circle cx="127.3" cy="922.3" r="5.3"/></g><g id="n45-1" class="nd"><circle cx="160.7" cy="922.3" r="5.3"/></g><g id="n45-2" class="nd"><circle cx="284.3" cy="922.3" r="5.3"/></g><g id="n45-3" class="nd"><circle cx="367.3" cy="922.3" r="5.3"/></g>
<g id="n46-0" class="nd"><circle cx="127.3" cy="942.6" r="5.3"/></g><g id="n46-1" class="nd"><circle cx="160.7" cy="942.6" r="5.3"/></g><g id="n46-2" class="nd"><circle cx="284.3" cy="942.6" r="5.3"/></g><g id="n46-3" class="nd"><circle cx="367.3" cy="942.6" r="5.3"/></g>
<g id="n47-0" class="nd"><circle cx="127.3" cy="962.9" r="5.3"/></g><g id="n47-1" class="nd"><circle cx="160.7" cy="962.9" r="5.3"/></g><g id="n47-2" class="nd"><circle cx="267.3" cy="962.9" r="5.3"/></g><g id="n47-3" class="nd"><circle cx="300.7" cy="962.9" r="5.3"/></g><g id="n47-4" class="nd"><circle cx="351.3" cy="962.9" r="5.3"/></g><g id="n47-5" class="nd"><circle cx="384.7" cy="962.9" r="5.3"/></g>
<g id="n48-0" class="nd"><circle cx="127.3" cy="983.1" r="5.3"/></g><g id="n48-1" class="nd"><circle cx="160.7" cy="983.1" r="5.3"/></g><g id="n48-2" class="nd"><circle cx="267.3" cy="983.1" r="5.3"/></g><g id="n48-3" class="nd"><circle cx="300.7" cy="983.1" r="5.3"/></g><g id="n48-4" class="nd"><circle cx="351.3" cy="983.1" r="5.3"/></g><g id="n48-5" class="nd"><circle cx="384.7" cy="983.1" r="5.3"/></g>
<g id="n49-0" class="nd"><circle cx="160.7" cy="1003.4" r="5.3"/></g><g id="n49-1" class="nd"><circle cx="267.3" cy="1003.4" r="5.3"/></g><g id="n49-2" class="nd"><circle cx="351.3" cy="1003.4" r="5.3"/></g><g id="n49-3" class="nd"><circle cx="384.7" cy="1003.4" r="5.3"/></g><g id="n49-4" class="nd"><circle cx="418" cy="1003.4" r="5.3"/></g>
<g id="n50-0" class="nd"><circle cx="160.7" cy="1023.7" r="5.3"/></g><g id="n50-1" class="nd"><circle cx="267.3" cy="1023.7" r="5.3"/></g><g id="n50-2" class="nd"><circle cx="351.3" cy="1023.7" r="5.3"/></g><g id="n50-3" class="nd"><circle cx="384.7" cy="1023.7" r="5.3"/></g><g id="n50-4" class="nd"><circle cx="418" cy="1023.7" r="5.3"/></g>
<g id="n51-0" class="nd"><circle cx="351.3" cy="1044" r="5.3"/></g><g id="n51-1" class="nd"><circle cx="418" cy="1044" r="5.3"/></g>
<g id="n52-0" class="nd"><circle cx="351.3" cy="1064.2" r="5.3"/></g><g id="n52-1" class="nd"><circle cx="418" cy="1064.2" r="5.3"/></g>
<g id="n53-0" class="nd"><circle cx="351.3" cy="1084.5" r="5.3"/></g><g id="n53-1" class="nd"><circle cx="418" cy="1084.5" r="5.3"/></g>
<g id="n54-0" class="nd"><circle cx="351.3" cy="1104.8" r="5.3"/></g><g id="n54-1" class="nd"><circle cx="418" cy="1104.8" r="5.3"/></g>
<g id="n55-0" class="nd"><circle cx="351.3" cy="1125" r="5.3"/></g><g id="n55-1" class="nd"><circle cx="418" cy="1125" r="5.3"/></g><g id="n55-2" class="nd"><circle cx="458" cy="1125" r="5.3"/></g>
<g id="n56-0" class="nd"><circle cx="351.3" cy="1145.3" r="5.3"/></g><g id="n56-1" class="nd"><circle cx="418" cy="1145.3" r="5.3"/></g><g id="n56-2" class="nd"><circle cx="463.3" cy="1145.3" r="5.3"/></g>
<g id="n57-0" class="nd"><circle cx="351.3" cy="1165.6" r="5.3"/></g><g id="n57-1" class="nd"><circle cx="408.7" cy="1165.6" r="5.3"/></g><g id="n57-2" class="nd"><circle cx="442" cy="1165.6" r="5.3"/></g><g id="n57-3" class="nd"><circle cx="475.3" cy="1165.6" r="5.3"/></g>
<g id="n58-0" class="nd"><circle cx="351.3" cy="1185.9" r="5.3"/></g><g id="n58-1" class="nd"><circle cx="408.7" cy="1185.9" r="5.3"/></g><g id="n58-2" class="nd"><circle cx="442" cy="1185.9" r="5.3"/></g><g id="n58-3" class="nd"><circle cx="476.7" cy="1185.9" r="5.3"/></g>
<g id="n59-0" class="nd"><circle cx="315.3" cy="1206.1" r="5.3"/></g><g id="n59-1" class="nd"><circle cx="351.3" cy="1206.1" r="5.3"/></g><g id="n59-2" class="nd"><circle cx="410" cy="1206.1" r="5.3"/></g><g id="n59-3" class="nd"><circle cx="443.3" cy="1206.1" r="5.3"/></g><g id="n59-4" class="nd"><circle cx="476.7" cy="1206.1" r="5.3"/></g><g id="n59-5" class="nd"><circle cx="510" cy="1206.1" r="5.3"/></g>
<g id="n60-0" class="nd"><circle cx="312.7" cy="1226.4" r="5.3"/></g><g id="n60-1" class="nd"><circle cx="351.3" cy="1226.4" r="5.3"/></g><g id="n60-2" class="nd"><circle cx="410" cy="1226.4" r="5.3"/></g><g id="n60-3" class="nd"><circle cx="443.3" cy="1226.4" r="5.3"/></g><g id="n60-4" class="nd"><circle cx="476.7" cy="1226.4" r="5.3"/></g><g id="n60-5" class="nd"><circle cx="510" cy="1226.4" r="5.3"/></g>
<g id="n61-0" class="nd"><circle cx="275.3" cy="1246.7" r="5.3"/></g><g id="n61-1" class="nd"><circle cx="312.7" cy="1246.7" r="5.3"/></g><g id="n61-2" class="nd"><circle cx="362" cy="1246.7" r="5.3"/></g><g id="n61-3" class="nd"><circle cx="419.3" cy="1246.7" r="5.3"/></g><g id="n61-4" class="nd"><circle cx="476.7" cy="1246.7" r="5.3"/></g><g id="n61-5" class="nd"><circle cx="510" cy="1246.7" r="5.3"/></g>
<g id="n62-0" class="nd"><circle cx="275.3" cy="1267" r="5.3"/></g><g id="n62-1" class="nd"><circle cx="308.7" cy="1267" r="5.3"/></g><g id="n62-2" class="nd"><circle cx="378" cy="1267" r="5.3"/></g><g id="n62-3" class="nd"><circle cx="427.3" cy="1267" r="5.3"/></g><g id="n62-4" class="nd"><circle cx="476.7" cy="1267" r="5.3"/></g><g id="n62-5" class="nd"><circle cx="510" cy="1267" r="5.3"/></g>
<g id="n63-0" class="nd"><circle cx="275.3" cy="1287.2" r="5.3"/></g><g id="n63-1" class="nd"><circle cx="308.7" cy="1287.2" r="5.3"/></g><g id="n63-2" class="nd"><circle cx="378" cy="1287.2" r="5.3"/></g><g id="n63-3" class="nd"><circle cx="411.3" cy="1287.2" r="5.3"/></g><g id="n63-4" class="nd"><circle cx="446" cy="1287.2" r="5.3"/></g><g id="n63-5" class="nd"><circle cx="510" cy="1287.2" r="5.3"/></g>
<g id="n64-0" class="nd"><circle cx="275.3" cy="1307.5" r="5.3"/></g><g id="n64-1" class="nd"><circle cx="308.7" cy="1307.5" r="5.3"/></g><g id="n64-2" class="nd"><circle cx="378" cy="1307.5" r="5.3"/></g><g id="n64-3" class="nd"><circle cx="412.7" cy="1307.5" r="5.3"/></g><g id="n64-4" class="nd"><circle cx="446" cy="1307.5" r="5.3"/></g><g id="n64-5" class="nd"><circle cx="510" cy="1307.5" r="5.3"/></g>
<g id="n65-0" class="nd"><circle cx="216.7" cy="1327.8" r="5.3"/></g><g id="n65-1" class="nd"><circle cx="266" cy="1327.8" r="5.3"/></g><g id="n65-2" class="nd"><circle cx="308.7" cy="1327.8" r="5.3"/></g><g id="n65-3" class="nd"><circle cx="362" cy="1327.8" r="5.3"/></g><g id="n65-4" class="nd"><circle cx="395.3" cy="1327.8" r="5.3"/></g><g id="n65-5" class="nd"><circle cx="428.7" cy="1327.8" r="5.3"/></g><g id="n65-6" class="nd"><circle cx="468.7" cy="1327.8" r="5.3"/></g><g id="n65-7" class="nd"><circle cx="510" cy="1327.8" r="5.3"/></g>
<g id="n66-0" class="nd"><circle cx="208.7" cy="1348.1" r="5.3"/></g><g id="n66-1" class="nd"><circle cx="254" cy="1348.1" r="5.3"/></g><g id="n66-2" class="nd"><circle cx="308.7" cy="1348.1" r="5.3"/></g><g id="n66-3" class="nd"><circle cx="362" cy="1348.1" r="5.3"/></g><g id="n66-4" class="nd"><circle cx="395.3" cy="1348.1" r="5.3"/></g><g id="n66-5" class="nd"><circle cx="436.7" cy="1348.1" r="5.3"/></g><g id="n66-6" class="nd"><circle cx="474" cy="1348.1" r="5.3"/></g><g id="n66-7" class="nd"><circle cx="510" cy="1348.1" r="5.3"/></g>
<g id="n67-0" class="nd"><circle cx="208.7" cy="1368.3" r="5.3"/></g><g id="n67-1" class="nd"><circle cx="242" cy="1368.3" r="5.3"/></g><g id="n67-2" class="nd"><circle cx="275.3" cy="1368.3" r="5.3"/></g><g id="n67-3" class="nd"><circle cx="308.7" cy="1368.3" r="5.3"/></g><g id="n67-4" class="nd"><circle cx="342" cy="1368.3" r="5.3"/></g><g id="n67-5" class="nd"><circle cx="375.3" cy="1368.3" r="5.3"/></g><g id="n67-6" class="nd"><circle cx="408.7" cy="1368.3" r="5.3"/></g><g id="n67-7" class="nd"><circle cx="442" cy="1368.3" r="5.3"/></g><g id="n67-8" class="nd"><circle cx="475.3" cy="1368.3" r="5.3"/></g>
<g id="n68-0" class="nd"><circle cx="208.7" cy="1388.6" r="5.3"/></g><g id="n68-1" class="nd"><circle cx="242" cy="1388.6" r="5.3"/></g><g id="n68-2" class="nd"><circle cx="275.3" cy="1388.6" r="5.3"/></g><g id="n68-3" class="nd"><circle cx="308.7" cy="1388.6" r="5.3"/></g><g id="n68-4" class="nd"><circle cx="342" cy="1388.6" r="5.3"/></g><g id="n68-5" class="nd"><circle cx="375.3" cy="1388.6" r="5.3"/></g><g id="n68-6" class="nd"><circle cx="408.7" cy="1388.6" r="5.3"/></g><g id="n68-7" class="nd"><circle cx="442" cy="1388.6" r="5.3"/></g><g id="n68-8" class="nd"><circle cx="475.3" cy="1388.6" r="5.3"/></g>
<g id="n69-0" class="nd"><circle cx="242" cy="1408.9" r="5.3"/></g><g id="n69-1" class="nd"><circle cx="275.3" cy="1408.9" r="5.3"/></g><g id="n69-2" class="nd"><circle cx="308.7" cy="1408.9" r="5.3"/></g><g id="n69-3" class="nd"><circle cx="342" cy="1408.9" r="5.3"/></g><g id="n69-4" class="nd"><circle cx="408.7" cy="1408.9" r="5.3"/></g>
<g id="n70-0" class="nd"><circle cx="242" cy="1429.2" r="5.3"/></g><g id="n70-1" class="nd"><circle cx="275.3" cy="1429.2" r="5.3"/></g><g id="n70-2" class="nd"><circle cx="308.7" cy="1429.2" r="5.3"/></g><g id="n70-3" class="nd"><circle cx="342" cy="1429.2" r="5.3"/></g><g id="n70-4" class="nd"><circle cx="408.7" cy="1429.2" r="5.3"/></g>
<g id="n71-0" class="nd"><circle cx="208.7" cy="1449.4" r="5.3"/></g><g id="n71-1" class="nd"><circle cx="242" cy="1449.4" r="5.3"/></g><g id="n71-2" class="nd"><circle cx="275.3" cy="1449.4" r="5.3"/></g><g id="n71-3" class="nd"><circle cx="308.7" cy="1449.4" r="5.3"/></g><g id="n71-4" class="nd"><circle cx="342" cy="1449.4" r="5.3"/></g><g id="n71-5" class="nd"><circle cx="408.7" cy="1449.4" r="5.3"/></g>
<g id="n72-0" class="nd"><circle cx="208.7" cy="1469.7" r="5.3"/></g><g id="n72-1" class="nd"><circle cx="242" cy="1469.7" r="5.3"/></g><g id="n72-2" class="nd"><circle cx="275.3" cy="1469.7" r="5.3"/></g><g id="n72-3" class="nd"><circle cx="308.7" cy="1469.7" r="5.3"/></g><g id="n72-4" class="nd"><circle cx="342" cy="1469.7" r="5.3"/></g><g id="n72-5" class="nd"><circle cx="408.7" cy="1469.7" r="5.3"/></g>
<g id="n73-0" class="nd"><circle cx="242" cy="1490" r="5.3"/></g><g id="n73-1" class="nd"><circle cx="308.7" cy="1490" r="5.3"/></g><g id="n73-2" class="nd"><circle cx="342" cy="1490" r="5.3"/></g><g id="n73-3" class="nd"><circle cx="408.7" cy="1490" r="5.3"/></g>
<g id="n74-0" class="nd"><circle cx="242" cy="1510.2" r="5.3"/></g><g id="n74-1" class="nd"><circle cx="308.7" cy="1510.2" r="5.3"/></g><g id="n74-2" class="nd"><circle cx="342" cy="1510.2" r="5.3"/></g><g id="n74-3" class="nd"><circle cx="408.7" cy="1510.2" r="5.3"/></g>
<g id="n75-0" class="nd"><circle cx="208.7" cy="1530.5" r="5.3"/></g><g id="n75-1" class="nd"><circle cx="242" cy="1530.5" r="5.3"/></g><g id="n75-2" class="nd"><circle cx="308.7" cy="1530.5" r="5.3"/></g><g id="n75-3" class="nd"><circle cx="342" cy="1530.5" r="5.3"/></g><g id="n75-4" class="nd"><circle cx="408.7" cy="1530.5" r="5.3"/></g>
<g id="n76-0" class="nd"><circle cx="208.7" cy="1550.8" r="5.3"/></g><g id="n76-1" class="nd"><circle cx="242" cy="1550.8" r="5.3"/></g><g id="n76-2" class="nd"><circle cx="308.7" cy="1550.8" r="5.3"/></g><g id="n76-3" class="nd"><circle cx="342" cy="1550.8" r="5.3"/></g><g id="n76-4" class="nd"><circle cx="408.7" cy="1550.8" r="5.3"/></g>
<g id="n77-0" class="nd"><circle cx="208.7" cy="1571.1" r="5.3"/></g><g id="n77-1" class="nd"><circle cx="242" cy="1571.1" r="5.3"/></g><g id="n77-2" class="nd"><circle cx="275.3" cy="1571.1" r="5.3"/></g><g id="n77-3" class="nd"><circle cx="308.7" cy="1571.1" r="5.3"/></g><g id="n77-4" class="nd"><circle cx="342" cy="1571.1" r="5.3"/></g><g id="n77-5" class="nd"><circle cx="408.7" cy="1571.1" r="5.3"/></g>
<g id="n78-0" class="nd"><circle cx="208.7" cy="1591.3" r="5.3"/></g><g id="n78-1" class="nd"><circle cx="242" cy="1591.3" r="5.3"/></g><g id="n78-2" class="nd"><circle cx="275.3" cy="1591.3" r="5.3"/></g><g id="n78-3" class="nd"><circle cx="308.7" cy="1591.3" r="5.3"/></g><g id="n78-4" class="nd"><circle cx="342" cy="1591.3" r="5.3"/></g><g id="n78-5" class="nd"><circle cx="408.7" cy="1591.3" r="5.3"/></g>
<g id="n79-0" class="nd"><circle cx="242" cy="1611.6" r="5.3"/></g><g id="n79-1" class="nd"><circle cx="308.7" cy="1611.6" r="5.3"/></g><g id="n79-2" class="nd"><circle cx="342" cy="1611.6" r="5.3"/></g><g id="n79-3" class="nd"><circle cx="408.7" cy="1611.6" r="5.3"/></g>
<g id="n80-0" class="nd"><circle cx="242" cy="1631.9" r="5.3"/></g><g id="n80-1" class="nd"><circle cx="308.7" cy="1631.9" r="5.3"/></g><g id="n80-2" class="nd"><circle cx="342" cy="1631.9" r="5.3"/></g><g id="n80-3" class="nd"><circle cx="408.7" cy="1631.9" r="5.3"/></g>
<g id="n81-0" class="nd"><circle cx="242" cy="1652.2" r="5.3"/></g><g id="n81-1" class="nd"><circle cx="275.3" cy="1652.2" r="5.3"/></g><g id="n81-2" class="nd"><circle cx="308.7" cy="1652.2" r="5.3"/></g><g id="n81-3" class="nd"><circle cx="342" cy="1652.2" r="5.3"/></g><g id="n81-4" class="nd"><circle cx="408.7" cy="1652.2" r="5.3"/></g>
<g id="n82-0" class="nd"><circle cx="242" cy="1672.4" r="5.3"/></g><g id="n82-1" class="nd"><circle cx="275.3" cy="1672.4" r="5.3"/></g><g id="n82-2" class="nd"><circle cx="308.7" cy="1672.4" r="5.3"/></g><g id="n82-3" class="nd"><circle cx="342" cy="1672.4" r="5.3"/></g><g id="n82-4" class="nd"><circle cx="408.7" cy="1672.4" r="5.3"/></g>
<g id="n83-0" class="nd"><circle cx="242" cy="1692.7" r="5.3"/></g><g id="n83-1" class="nd"><circle cx="275.3" cy="1692.7" r="5.3"/></g><g id="n83-2" class="nd"><circle cx="342" cy="1692.7" r="5.3"/></g><g id="n83-3" class="nd"><circle cx="408.7" cy="1692.7" r="5.3"/></g>
<g id="n84-0" class="nd"><circle cx="242" cy="1713" r="5.3"/></g><g id="n84-1" class="nd"><circle cx="275.3" cy="1713" r="5.3"/></g><g id="n84-2" class="nd"><circle cx="342" cy="1713" r="5.3"/></g><g id="n84-3" class="nd"><circle cx="408.7" cy="1713" r="5.3"/></g>
<g id="n85-0" class="nd"><circle cx="242" cy="1733.3" r="5.3"/></g><g id="n85-1" class="nd"><circle cx="275.3" cy="1733.3" r="5.3"/></g><g id="n85-2" class="nd"><circle cx="308.7" cy="1733.3" r="5.3"/></g><g id="n85-3" class="nd"><circle cx="342" cy="1733.3" r="5.3"/></g><g id="n85-4" class="nd"><circle cx="391.3" cy="1733.3" r="5.3"/></g><g id="n85-5" class="nd"><circle cx="424.7" cy="1733.3" r="5.3"/></g>
<g id="n86-0" class="nd"><circle cx="242" cy="1753.5" r="5.3"/></g><g id="n86-1" class="nd"><circle cx="275.3" cy="1753.5" r="5.3"/></g><g id="n86-2" class="nd"><circle cx="308.7" cy="1753.5" r="5.3"/></g><g id="n86-3" class="nd"><circle cx="342" cy="1753.5" r="5.3"/></g><g id="n86-4" class="nd"><circle cx="391.3" cy="1753.5" r="5.3"/></g><g id="n86-5" class="nd"><circle cx="424.7" cy="1753.5" r="5.3"/></g>
<g id="n87-0" class="nd"><circle cx="242" cy="1773.8" r="5.3"/></g><g id="n87-1" class="nd"><circle cx="275.3" cy="1773.8" r="5.3"/></g><g id="n87-2" class="nd"><circle cx="308.7" cy="1773.8" r="5.3"/></g><g id="n87-3" class="nd"><circle cx="342" cy="1773.8" r="5.3"/></g><g id="n87-4" class="nd"><circle cx="424.7" cy="1773.8" r="5.3"/></g>
<g id="n88-0" class="nd"><circle cx="242" cy="1794.1" r="5.3"/></g><g id="n88-1" class="nd"><circle cx="275.3" cy="1794.1" r="5.3"/></g><g id="n88-2" class="nd"><circle cx="308.7" cy="1794.1" r="5.3"/></g><g id="n88-3" class="nd"><circle cx="342" cy="1794.1" r="5.3"/></g><g id="n88-4" class="nd"><circle cx="424.7" cy="1794.1" r="5.3"/></g>
<g id="n89-0" class="nd"><circle cx="275.3" cy="1814.4" r="5.3"/></g><g id="n89-1" class="nd"><circle cx="308.7" cy="1814.4" r="5.3"/></g><g id="n89-2" class="nd"><circle cx="342" cy="1814.4" r="5.3"/></g>
<g id="n90-0" class="nd"><circle cx="275.3" cy="1834.6" r="5.3"/></g><g id="n90-1" class="nd"><circle cx="308.7" cy="1834.6" r="5.3"/></g><g id="n90-2" class="nd"><circle cx="342" cy="1834.6" r="5.3"/></g>
<g id="n91-0" class="nd"><circle cx="275.3" cy="1854.9" r="5.3"/></g><g id="n91-1" class="nd"><circle cx="308.7" cy="1854.9" r="5.3"/></g><g id="n91-2" class="nd"><circle cx="342" cy="1854.9" r="5.3"/></g>
<g id="n92-0" class="nd"><circle cx="275.3" cy="1875.2" r="5.3"/></g><g id="n92-1" class="nd"><circle cx="308.7" cy="1875.2" r="5.3"/></g><g id="n92-2" class="nd"><circle cx="342" cy="1875.2" r="5.3"/></g>
<g id="n93-0" class="nd"><circle cx="259.3" cy="1895.4" r="5.3"/></g><g id="n93-1" class="nd"><circle cx="292.7" cy="1895.4" r="5.3"/></g><g id="n93-2" class="nd"><circle cx="342" cy="1895.4" r="5.3"/></g>
<g id="n94-0" class="nd"><circle cx="259.3" cy="1915.7" r="5.3"/></g><g id="n94-1" class="nd"><circle cx="292.7" cy="1915.7" r="5.3"/></g><g id="n94-2" class="nd"><circle cx="342" cy="1915.7" r="5.3"/></g>
<g id="n95-0" class="nd"><circle cx="275.3" cy="1936" r="5.3"/></g><g id="n95-1" class="nd"><circle cx="308.7" cy="1936" r="5.3"/></g><g id="n95-2" class="nd"><circle cx="342" cy="1936" r="5.3"/></g>
<g id="n96-0" class="nd"><circle cx="275.3" cy="1956.3" r="5.3"/></g><g id="n96-1" class="nd"><circle cx="308.7" cy="1956.3" r="5.3"/></g><g id="n96-2" class="nd"><circle cx="342" cy="1956.3" r="5.3"/></g>
<g id="n97-0" class="nd"><circle cx="275.3" cy="1976.5" r="5.3"/></g><g id="n97-1" class="nd"><circle cx="342" cy="1976.5" r="5.3"/></g>
<g id="n98-0" class="nd"><circle cx="275.3" cy="1996.8" r="5.3"/></g><g id="n98-1" class="nd"><circle cx="342" cy="1996.8" r="5.3"/></g>
<g id="n99-0" class="nd"><circle cx="275.3" cy="2017.1" r="5.3"/></g><g id="n99-1" class="nd"><circle cx="308.7" cy="2017.1" r="5.3"/></g><g id="n99-2" class="nd"><circle cx="342" cy="2017.1" r="5.3"/></g>
<g id="n100-0" class="nd"><circle cx="275.3" cy="2037.4" r="5.3"/></g><g id="n100-1" class="nd"><circle cx="308.7" cy="2037.4" r="5.3"/></g><g id="n100-2" class="nd"><circle cx="342" cy="2037.4" r="5.3"/></g>
<g id="n101-0" class="nd"><circle cx="275.3" cy="2057.6" r="5.3"/></g><g id="n101-1" class="nd"><circle cx="308.7" cy="2057.6" r="5.3"/></g><g id="n101-2" class="nd"><circle cx="342" cy="2057.6" r="5.3"/></g><g id="n101-3" class="nd"><circle cx="375.3" cy="2057.6" r="5.3"/></g>
<g id="n102-0" class="nd"><circle cx="275.3" cy="2077.9" r="5.3"/></g><g id="n102-1" class="nd"><circle cx="308.7" cy="2077.9" r="5.3"/></g><g id="n102-2" class="nd"><circle cx="342" cy="2077.9" r="5.3"/></g><g id="n102-3" class="nd"><circle cx="375.3" cy="2077.9" r="5.3"/></g>
<g id="n103-0" class="nd"><circle cx="275.3" cy="2098.2" r="5.3"/></g><g id="n103-1" class="nd"><circle cx="342" cy="2098.2" r="5.3"/></g>
<g id="n104-0" class="nd"><circle cx="275.3" cy="2118.5" r="5.3"/></g><g id="n104-1" class="nd"><circle cx="342" cy="2118.5" r="5.3"/></g>
<g id="n105-0" class="nd"><circle cx="275.3" cy="2138.7" r="5.3"/></g>
<g id="n106-0" class="nd"><circle cx="275.3" cy="2159" r="5.3"/></g>
</g>
</svg>
